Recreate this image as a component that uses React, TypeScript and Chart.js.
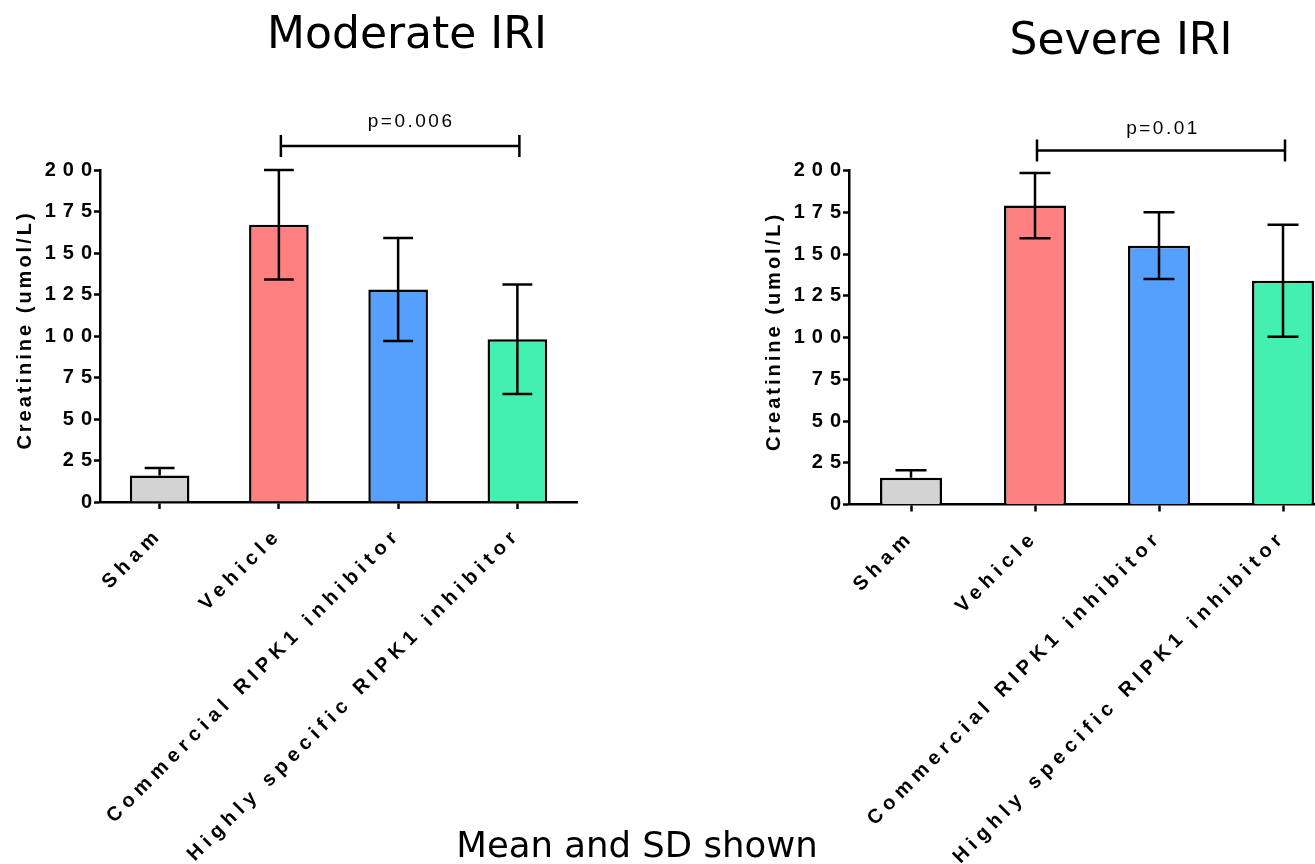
import React, { useEffect, useRef } from "react";
import { Chart, registerables } from "chart.js";

Chart.register(...registerables);

// ---- data ----
const categories = [
  "Sham",
  "Vehicle",
  "Commercial RIPK1 inhibitor",
  "Highly specific RIPK1 inhibitor",
];
const barColors = ["#D3D3D3", "#FF8080", "#55A0FC", "#44F0B0"];
const moderateMeans = [16, 167, 128, 98];
const moderateSD = [4.5, 33, 31, 33];
const severeMeans = [16, 179, 155, 134];
const severeSD = [4.5, 19.5, 20, 33.5];
const showLowerError = [false, true, true, true];
const yMin = 0;
const yMax = 200;
const yStep = 25;
const bracketFrom = 1;
const bracketTo = 3;
const moderateBracketValue = 214.5;
const severeBracketValue = 212;
const moderateP = "p=0.006";
const severeP = "p=0.01";
const yTitle = "Creatinine (umol/L)";
const leftTitle = "Moderate IRI";
const rightTitle = "Severe IRI";
const footnote = "Mean and SD shown";

const H = 864;
const TICK_FONT = "Liberation Sans, Arial, sans-serif";
const X_SPACING = "5.5px";
const Y_SPACING = "7px";

type PanelProps = {
  left: number;
  width: number;
  means: number[];
  sds: number[];
  bracketValue: number;
  pLabel: string;
  pOffsetX: number;
  pOffsetY: number;
  areaLeft: number;
  areaTop: number;
  areaBottom: number;
  categoryWidth: number;
};

function patchLabels(scale: any, spacing: string) {
  if (scale.__patched) return;
  const orig = scale.drawLabels;
  scale.drawLabels = function (area: any) {
    const ctx = this.ctx;
    const prev = ctx.letterSpacing;
    ctx.letterSpacing = spacing;
    orig.call(this, area);
    ctx.letterSpacing = prev;
  };
  scale.__patched = true;
}

function Panel(props: PanelProps) {
  const ref = useRef<HTMLCanvasElement | null>(null);
  useEffect(() => {
    const canvas = ref.current;
    if (!canvas) return;
    const {
      width,
      means,
      sds,
      bracketValue,
      pLabel,
      pOffsetX,
      pOffsetY,
      areaLeft,
      areaTop,
      areaBottom,
      categoryWidth,
    } = props;
    const chartRight = areaLeft + categoryWidth * categories.length;

    const extras = {
      id: "extras",
      afterLayout(chart: any) {
        patchLabels(chart.scales.x, X_SPACING);
        patchLabels(chart.scales.y, Y_SPACING);
      },
      afterDatasetsDraw(chart: any) {
        const ctx = chart.ctx;
        const meta = chart.getDatasetMeta(0);
        const ys = chart.scales.y;
        ctx.save();
        ctx.strokeStyle = "#000";
        ctx.lineWidth = 2.5;
        ctx.lineCap = "butt";
        means.forEach((m, i) => {
          const bar = meta.data[i];
          const x = bar.x;
          const cap = bar.width / 2;
          const yTop = ys.getPixelForValue(m + sds[i]);
          const yMean = ys.getPixelForValue(m);
          const yBot = ys.getPixelForValue(m - sds[i]);
          const start = showLowerError[i] ? yBot : yMean;
          ctx.beginPath();
          ctx.moveTo(x, start);
          ctx.lineTo(x, yTop);
          ctx.moveTo(x - cap / 2, yTop);
          ctx.lineTo(x + cap / 2, yTop);
          if (showLowerError[i]) {
            ctx.moveTo(x - cap / 2, yBot);
            ctx.lineTo(x + cap / 2, yBot);
          }
          ctx.stroke();
        });
        ctx.restore();
      },
      afterDraw(chart: any) {
        const ctx = chart.ctx;
        const xs = chart.scales.x;
        const ys = chart.scales.y;
        const area = chart.chartArea;
        ctx.save();
        // bracket
        const x1 = xs.getPixelForValue(bracketFrom) + 2;
        const x2 = xs.getPixelForValue(bracketTo) + 2;
        const yb = ys.getPixelForValue(bracketValue);
        ctx.strokeStyle = "#000";
        ctx.lineWidth = 2.5;
        ctx.beginPath();
        ctx.moveTo(x1, yb);
        ctx.lineTo(x2, yb);
        ctx.moveTo(x1, yb - 11);
        ctx.lineTo(x1, yb + 11);
        ctx.moveTo(x2, yb - 11);
        ctx.lineTo(x2, yb + 11);
        ctx.stroke();
        // p label
        ctx.letterSpacing = "2.5px";
        ctx.fillStyle = "#000";
        ctx.font = "19px " + TICK_FONT;
        ctx.textAlign = "center";
        ctx.textBaseline = "alphabetic";
        ctx.fillText(pLabel, (x1 + x2) / 2 + pOffsetX, yb - pOffsetY);
        // y title
        ctx.letterSpacing = "3px";
        ctx.font = "bold 20px " + TICK_FONT;
        ctx.translate(area.left - 75, (area.top + area.bottom) / 2 - 6);
        ctx.rotate(-Math.PI / 2);
        ctx.textBaseline = "middle";
        ctx.fillText(yTitle, 0, 0);
        ctx.restore();
        ctx.letterSpacing = "0px";
      },
    };

    const chart = new Chart(canvas, {
      type: "bar",
      data: {
        labels: categories,
        datasets: [
          {
            data: means,
            backgroundColor: barColors,
            borderColor: "#000",
            borderWidth: 2.5,
            barPercentage: 0.5,
            categoryPercentage: 1,
          },
        ],
      },
      options: {
        responsive: false,
        animation: false,
        devicePixelRatio: 1,
        layout: {
          padding: { left: 0, top: areaTop, right: width - chartRight, bottom: 0 },
        },
        plugins: {
          legend: { display: false },
          tooltip: { enabled: false },
          title: { display: false },
        },
        scales: {
          x: {
            type: "category",
            offset: true,
            z: 1,
            grid: {
              display: true,
              drawOnChartArea: false,
              offset: false,
              tickLength: 7,
              tickWidth: 2.5,
              tickColor: "#000",
            },
            border: { display: true, color: "#000", width: 2.5 },
            ticks: {
              autoSkip: false,
              maxRotation: 45,
              minRotation: 45,
              color: "#000",
              padding: 14,
              font: { family: TICK_FONT, size: 20, weight: "bold" },
            },
            afterFit: (s: any) => {
              s.height = H - areaBottom;
            },
          },
          y: {
            min: yMin,
            max: yMax,
            z: 1,
            ticks: {
              stepSize: yStep,
              color: "#000",
              padding: -5,
              font: { family: TICK_FONT, size: 20, weight: "bold" },
            },
            grid: {
              display: true,
              drawOnChartArea: false,
              tickLength: 6,
              tickWidth: 2.5,
              tickColor: "#000",
            },
            border: { display: true, color: "#000", width: 2.5 },
            afterFit: (s: any) => {
              s.width = areaLeft;
            },
          },
        },
      },
      plugins: [extras],
    } as any);
    chart.draw();
    return () => chart.destroy();
  }, []);
  return (
    <canvas
      ref={ref}
      width={props.width}
      height={H}
      style={{ position: "absolute", left: props.left, top: 0, width: props.width, height: H }}
    />
  );
}

const titleStyle: React.CSSProperties = {
  position: "absolute",
  fontFamily: "'DejaVu Sans', sans-serif",
  fontSize: 44,
  lineHeight: "44px",
  color: "#000",
  whiteSpace: "nowrap",
  transform: "translateX(-50%)",
};

export default function App() {
  return (
    <div
      style={{
        position: "absolute",
        left: 0,
        top: 0,
        width: 1315,
        height: H,
        overflow: "hidden",
        background: "#fff",
      }}
    >
      <Panel
        left={0}
        width={640}
        means={moderateMeans}
        sds={moderateSD}
        bracketValue={moderateBracketValue}
        pLabel={moderateP}
        pOffsetX={11}
        pOffsetY={19}
        areaLeft={100}
        areaTop={170}
        areaBottom={502}
        categoryWidth={119.25}
      />
      <Panel
        left={700}
        width={700}
        means={severeMeans}
        sds={severeSD}
        bracketValue={severeBracketValue}
        pLabel={severeP}
        pOffsetX={2}
        pOffsetY={16}
        areaLeft={149}
        areaTop={170.5}
        areaBottom={504.5}
        categoryWidth={124}
      />
      <div style={{ ...titleStyle, left: 407, top: 11 }}>{leftTitle}</div>
      <div style={{ ...titleStyle, left: 1121, top: 17 }}>{rightTitle}</div>
      <div
        style={{
          ...titleStyle,
          fontSize: 35.5,
          lineHeight: "35.5px",
          left: 637,
          top: 827,
        }}
      >
        {footnote}
      </div>
    </div>
  );
}
